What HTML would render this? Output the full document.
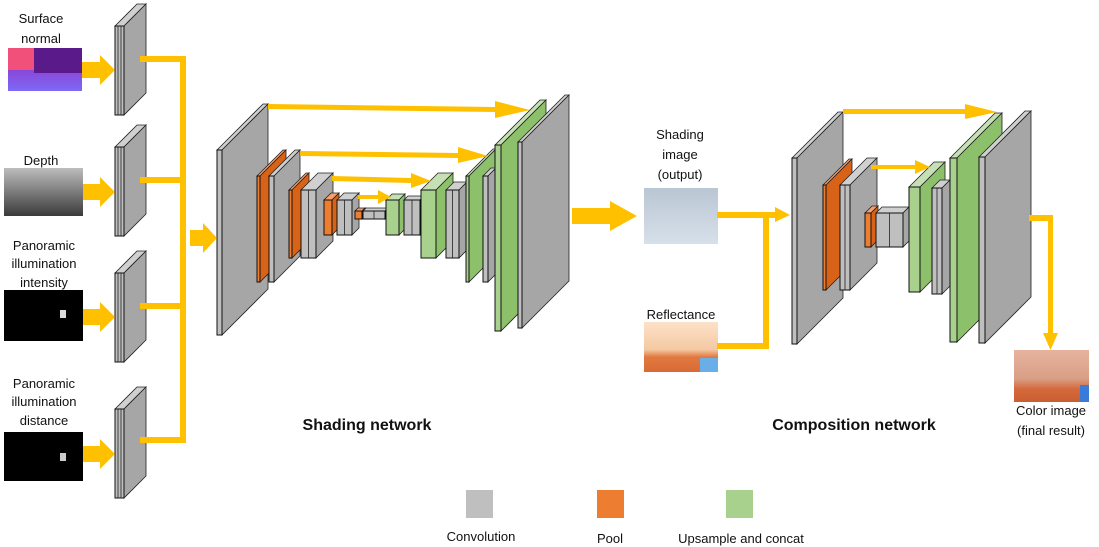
<!DOCTYPE html>
<html><head><meta charset="utf-8"><style>
html,body{margin:0;padding:0;background:#fff;}
svg{display:block;}
text{font-family:"Liberation Sans",sans-serif;fill:#111;}
</style></head><body>
<svg id="s" width="1099" height="547" viewBox="0 0 1099 547" xmlns="http://www.w3.org/2000/svg">
<defs>
<linearGradient id="gn" x1="0" y1="0" x2="0" y2="1"><stop offset="0" stop-color="#e8507a"/><stop offset="0.5" stop-color="#8a46d8"/><stop offset="1" stop-color="#7b6af5"/></linearGradient>
<linearGradient id="gd" x1="0" y1="0" x2="0" y2="1"><stop offset="0" stop-color="#bdbdbd"/><stop offset="1" stop-color="#3a3a3a"/></linearGradient>
<linearGradient id="gs" x1="0" y1="0" x2="0" y2="1"><stop offset="0" stop-color="#b9c6d3"/><stop offset="1" stop-color="#d6e0ea"/></linearGradient>
<linearGradient id="gr" x1="0" y1="0" x2="0" y2="1"><stop offset="0" stop-color="#fde2c8"/><stop offset="0.55" stop-color="#f4c9a3"/><stop offset="0.7" stop-color="#e07a40"/><stop offset="1" stop-color="#d96a35"/></linearGradient>
<linearGradient id="gc" x1="0" y1="0" x2="0" y2="1"><stop offset="0" stop-color="#e6b39d"/><stop offset="0.55" stop-color="#d99f86"/><stop offset="0.75" stop-color="#d46a3c"/><stop offset="1" stop-color="#c95f30"/></linearGradient>
</defs>
<g id="shapes"></g>
<!-- images -->
<rect x="8" y="48" width="74" height="43" fill="url(#gn)"/>
<rect x="8" y="48" width="26" height="22" fill="#f0507a"/>
<rect x="34" y="48" width="48" height="25" fill="#5a1a8a"/>
<rect x="4" y="168" width="79" height="48" fill="url(#gd)"/>
<rect x="4" y="290" width="79" height="51" fill="#000"/>
<rect x="60" y="310" width="6" height="8" fill="#ddd"/>
<rect x="4" y="432" width="79" height="49" fill="#000"/>
<rect x="60" y="453" width="6" height="8" fill="#ccc"/>
<rect x="644" y="188" width="74" height="56" fill="url(#gs)"/>
<rect x="644" y="322" width="74" height="50" fill="url(#gr)"/>
<rect x="700" y="358" width="18" height="14" fill="#6aaee8"/>
<rect x="1014" y="350" width="75" height="52" fill="url(#gc)"/>
<rect x="1080" y="385" width="9" height="17" fill="#3a7ad8"/>
<!-- yellow connectors -->
<g fill="#ffc000" stroke="none">
<rect x="140" y="56" width="46" height="6"/>
<rect x="140" y="177" width="46" height="6"/>
<rect x="140" y="303" width="46" height="6"/>
<rect x="140" y="437" width="46" height="6"/>
<rect x="180" y="56" width="6" height="387"/>
<polygon points="82,62 100,62 100,55 115,70 100,85 100,78 82,78"/>
<polygon points="83,184 100,184 100,177 115,192 100,207 100,200 83,200"/>
<polygon points="83,309 100,309 100,302 115,317 100,332 100,325 83,325"/>
<polygon points="83,446 100,446 100,439 115,454 100,469 100,462 83,462"/>
<polygon points="190,230 203,230 203,223 217,238 203,253 203,246 190,246"/>
<polygon points="572,208 610,208 610,201 637,216 610,231 610,224 572,224"/>
<polygon points="268,104 495,107 495,101 530,110 495,118 495,112 268,109"/>
<polygon points="300,151 458,153 458,147 488,156 458,163 458,158 300,156"/>
<polygon points="332,176 411,178 411,173 431,181 411,188 411,183 332,181"/>
<polygon points="358,195 378,195 378,190 391,197 378,204 378,199 358,199"/>
<rect x="717" y="212" width="50" height="6"/>
<polygon points="767,212 775,212 775,207 790,215 775,222 775,218 767,218"/>
<rect x="763" y="212" width="6" height="137"/>
<rect x="717" y="343" width="52" height="6"/>
<polygon points="843,109 965,109 965,104 997,112 965,119 965,114 843,114"/>
<polygon points="871,165 915,165 915,160 930,167 915,174 915,169 871,169"/>
<rect x="1029" y="215" width="24" height="6"/>
<rect x="1048" y="215" width="5" height="120"/>
<polygon points="1043,333 1058,333 1050.5,350"/>
</g>
<!-- labels -->
<g font-size="13" text-anchor="middle">
<text x="41" y="23">Surface</text><text x="41" y="43">normal</text>
<text x="41" y="165">Depth</text>
<text x="44" y="250">Panoramic</text><text x="44" y="268">illumination</text><text x="44" y="287">intensity</text>
<text x="44" y="388">Panoramic</text><text x="44" y="406">illumination</text><text x="44" y="425">distance</text>
<text x="680" y="139">Shading</text><text x="680" y="159">image</text><text x="680" y="179">(output)</text>
<text x="681" y="319">Reflectance</text>
<text x="1051" y="415">Color image</text><text x="1051" y="435">(final result)</text>
<text x="481" y="541">Convolution</text><text x="610" y="543">Pool</text><text x="741" y="543">Upsample and concat</text>
</g>
<text x="367" y="430" font-size="16" font-weight="bold" text-anchor="middle">Shading network</text>
<text x="854" y="430" font-size="16" font-weight="bold" text-anchor="middle">Composition network</text>
<rect x="466" y="490" width="27" height="28" fill="#bfbfbf"/>
<rect x="597" y="490" width="27" height="28" fill="#ed7d31"/>
<rect x="726" y="490" width="27" height="28" fill="#a9d18e"/>
</svg>
<script>
var C={g:["#bfbfbf","#a6a6a6","#d0d0d0"],o:["#ed7d31","#d86318","#f4a070"],gr:["#a9d18e","#8dc06a","#c5e0b4"]};
var L=[
["g",115,26,9,89,22,3],["g",115,147,9,89,22,3],["g",115,273,9,89,22,3],["g",115,409,9,89,22,3],
["g",217,150,5,185,46],["o",257,176,3,106,26],["g",269,176,5,106,26],["o",289,190,3,68,17],["g",301,190,15,68,17,2],
["o",324,200,8,35,7],["g",337,200,15,35,7,2],["o",355,211,7,8,3],["g",363,211,22,8,3,2],
["gr",386,200,13,35,6],["g",404,200,16,35,4,2],["gr",421,190,15,68,17],["g",446,190,13,68,8,2],
["gr",466,176,3,106,27],["g",483,176,5,106,8],["gr",495,145,6,186,45],["g",518,142,4,186,47],
["g",792,158,5,186,46],["o",823,185,3,105,26],["g",840,185,10,105,27,2],["o",865,213,6,34,7],["g",876,213,27,34,6,2],
["gr",909,187,11,105,25],["g",932,188,10,106,8,2],["gr",950,158,7,184,45],["g",979,157,6,186,46]];
var h="";
L.forEach(function(a){var c=C[a[0]],x=a[1],y=a[2],w=a[3],H=a[4],d=a[5],n=a[6]||1;
h+='<polygon points="'+x+','+y+' '+(x+d)+','+(y-d)+' '+(x+w+d)+','+(y-d)+' '+(x+w)+','+y+'" fill="'+c[2]+'" stroke="#222" stroke-width="0.8"/>';
h+='<polygon points="'+(x+w)+','+y+' '+(x+w+d)+','+(y-d)+' '+(x+w+d)+','+(y+H-d)+' '+(x+w)+','+(y+H)+'" fill="'+c[1]+'" stroke="#222" stroke-width="0.8"/>';
h+='<rect x="'+x+'" y="'+y+'" width="'+w+'" height="'+H+'" fill="'+c[0]+'" stroke="#111" stroke-width="1"/>';
for(var i=1;i<n;i++){var xx=x+w*i/n;h+='<line x1="'+xx+'" y1="'+y+'" x2="'+xx+'" y2="'+(y+H)+'" stroke="#222" stroke-width="0.8"/>';}
});
document.getElementById("shapes").innerHTML=h;
</script>
</body></html>
